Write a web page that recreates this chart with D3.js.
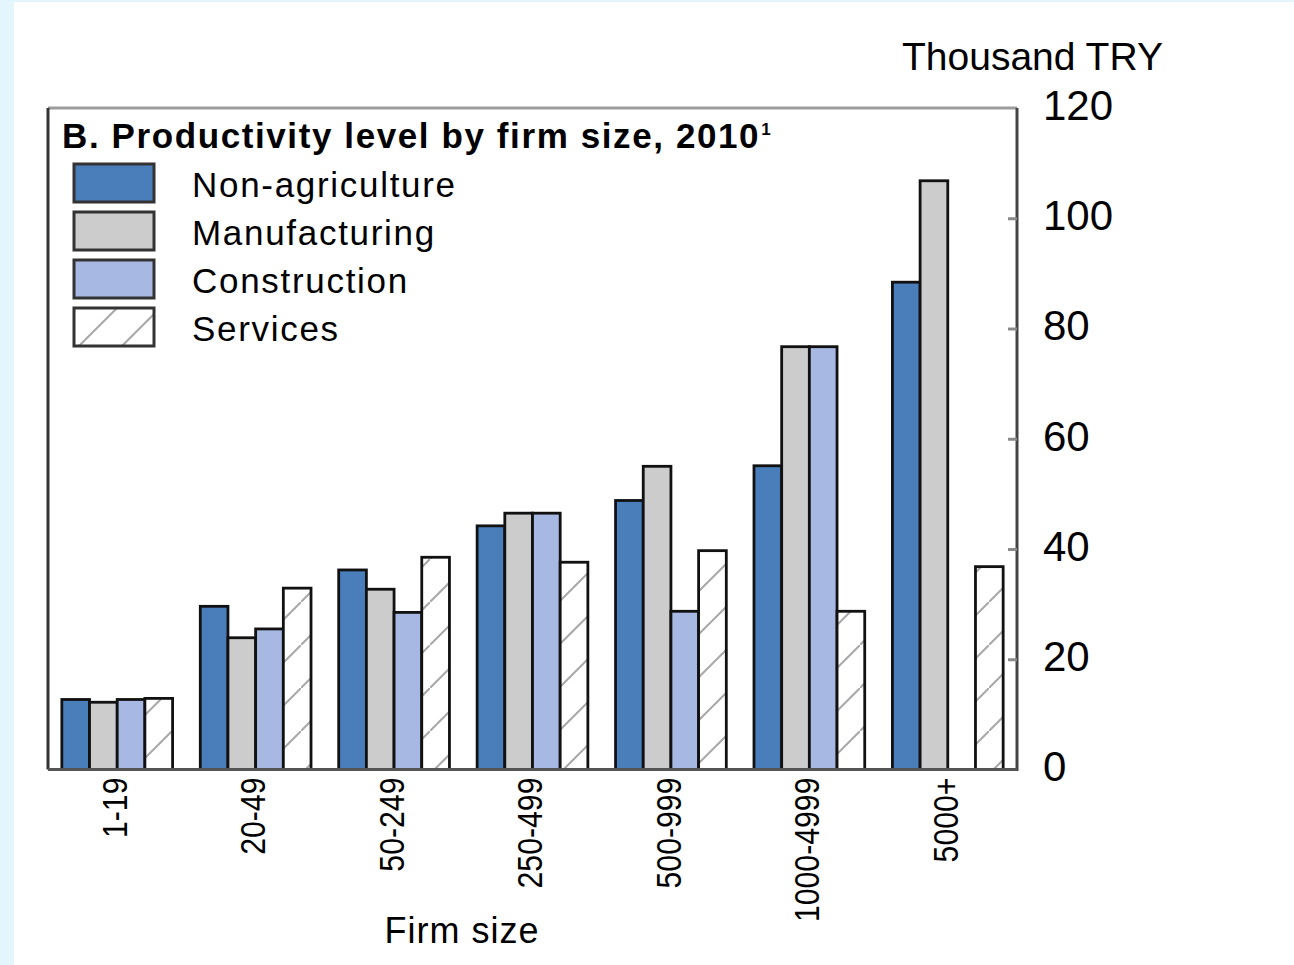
<!DOCTYPE html>
<html>
<head>
<meta charset="utf-8">
<script src="https://cdn.jsdelivr.net/npm/d3@7"></script>
<style>
  body { margin: 0; background: #fff; }
  svg { display: block; font-family: "Liberation Sans", Arial, Helvetica, sans-serif; }
</style>
</head>
<body>
<svg id="chart" width="1294" height="965"></svg>
<script>
// ---- Data ----
const categories = ["1-19", "20-49", "50-249", "250-499", "500-999", "1000-4999", "5000+"];
const seriesNames = ["Non-agriculture", "Manufacturing", "Construction", "Services"];
const nonAgriculture = [12.7, 29.6, 36.2, 44.2, 48.8, 55.1, 88.4];
const manufacturing  = [12.2, 23.9, 32.7, 46.5, 55.0, 76.7, 106.8];
const construction   = [12.7, 25.5, 28.5, 46.5, 28.7, 76.7, null];
const services       = [12.9, 32.9, 38.5, 37.6, 39.7, 28.7, 36.8];
const yTicks = [0, 20, 40, 60, 80, 100, 120];
const titleText = "B. Productivity level by firm size, 2010";
const titleNote = "1";
const unitLabel = "Thousand TRY";
const xAxisLabel = "Firm size";

const seriesValues = [nonAgriculture, manufacturing, construction, services];
const fills = ["#4a7ebb", "#cccccc", "#a7b8e3", "url(#hatch)"];

const svg = d3.select("#chart");

// page background band
svg.append("rect").attr("x", 0).attr("y", 0).attr("width", 1294).attr("height", 965).attr("fill", "#fff");
svg.append("rect").attr("x", 0).attr("y", 0).attr("width", 14).attr("height", 965).attr("fill", "#e3f6fd");
svg.append("rect").attr("x", 0).attr("y", 0).attr("width", 1294).attr("height", 2).attr("fill", "#e3f6fd");

// hatch pattern
const defs = svg.append("defs");
const pat = defs.append("pattern").attr("id", "hatch").attr("patternUnits", "userSpaceOnUse")
  .attr("width", 43).attr("height", 43);
pat.append("rect").attr("width", 43).attr("height", 43).attr("fill", "#fff");
pat.append("line").attr("x1", -2).attr("y1", 45).attr("x2", 45).attr("y2", -2)
  .attr("stroke", "#a8a8a8").attr("stroke-width", 2);

const L = 48, R = 1017, T = 108, B = 769.5;

const x = d3.scaleBand().domain(categories).range([L, R]).paddingInner(0.2).paddingOuter(0.1);
const xs = d3.scaleBand().domain(seriesNames).range([0, x.bandwidth()]).padding(0);
const y = d3.scaleLinear().domain([0, 120]).range([B, T]);

// bars
const barData = [];
categories.forEach((c, i) => {
  seriesNames.forEach((s, j) => {
    const v = seriesValues[j][i];
    if (v != null) barData.push({ c, s, j, v });
  });
});
svg.append("g").selectAll("rect").data(barData).join("rect")
  .attr("x", d => x(d.c) + xs(d.s))
  .attr("y", d => y(d.v))
  .attr("width", xs.bandwidth())
  .attr("height", d => y(0) - y(d.v))
  .attr("fill", d => fills[d.j])
  .attr("stroke", "#111")
  .attr("stroke-width", 2.8);

// frame
svg.append("line").attr("x1", L).attr("x2", R).attr("y1", T).attr("y2", T).attr("stroke", "#9c9c9c").attr("stroke-width", 3);
svg.append("line").attr("x1", L).attr("x2", L).attr("y1", T).attr("y2", B).attr("stroke", "#333").attr("stroke-width", 3);
svg.append("line").attr("x1", R).attr("x2", R).attr("y1", T).attr("y2", B + 1.5).attr("stroke", "#444").attr("stroke-width", 3);
svg.append("line").attr("x1", L).attr("x2", R).attr("y1", B).attr("y2", B).attr("stroke", "#555").attr("stroke-width", 3);

// y axis on right, ticks inward
const yAxis = d3.axisRight(y).tickValues(yTicks).tickSize(0).tickPadding(0).tickFormat(d3.format("d"));
const ya = svg.append("g").attr("transform", `translate(${R},0)`).call(yAxis);
ya.select(".domain").remove();
ya.selectAll(".tick text").attr("x", 26).attr("dy", "0.27em")
  .attr("font-size", 42).attr("fill", "#000").attr("font-family", "Liberation Sans, Arial, sans-serif");
ya.selectAll(".tick").filter(d => d > 0 && d < 120).append("line")
  .attr("x1", -9).attr("x2", 0).attr("stroke", "#8a8a8a").attr("stroke-width", 3);

svg.append("text").attr("x", 902).attr("y", 70).attr("font-size", 39).attr("fill", "#000").text(unitLabel);

// x axis labels
const xa = svg.append("g").attr("transform", `translate(0,${B})`)
  .call(d3.axisBottom(x).tickSize(0).tickPadding(0));
xa.select(".domain").remove();
xa.selectAll(".tick text")
  .attr("text-anchor", "end")
  .attr("font-size", 36)
  .attr("fill", "#000")
  .attr("font-family", "Liberation Sans, Arial, sans-serif")
  .attr("x", 0).attr("y", 0).attr("dy", "0.27em")
  .attr("transform", "translate(0,8) rotate(-90) scale(0.84,1)");

svg.append("text").attr("x", 462).attr("y", 943).attr("text-anchor", "middle")
  .attr("font-size", 36).attr("letter-spacing", 1).attr("fill", "#000").text(xAxisLabel);

// title
const tt = svg.append("text").attr("x", 62).attr("y", 148).attr("font-size", 35)
  .attr("font-weight", "bold").attr("letter-spacing", 1.6).attr("fill", "#000");
tt.append("tspan").text(titleText);
tt.append("tspan").attr("font-size", 17).attr("dy", -13).attr("dx", 1).text(titleNote);

// legend
const lg = svg.append("g").selectAll("g").data(seriesNames).join("g")
  .attr("transform", (d, i) => `translate(74,${164 + i * 48})`);
lg.append("rect").attr("width", 80).attr("height", 38)
  .attr("fill", (d, i) => fills[i]).attr("stroke", "#333").attr("stroke-width", 3);
lg.append("text").attr("x", 118).attr("y", 33).attr("font-size", 35).attr("letter-spacing", 1.7)
  .attr("fill", "#000").text(d => d);
</script>
</body>
</html>
